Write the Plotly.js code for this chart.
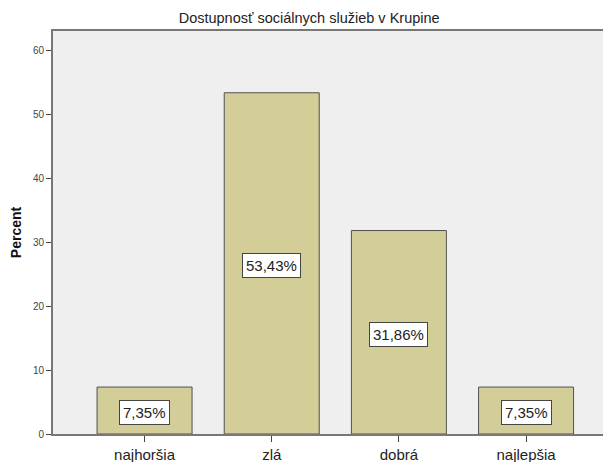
<!DOCTYPE html>
<html>
<head>
<meta charset="utf-8">
<script src="https://cdn.plot.ly/plotly-3.0.1.min.js"></script>
<style>html,body{margin:0;padding:0;background:#fff;}</style>
</head>
<body>
<div id="chart" style="width:605px;height:462px;"></div>
<script>
const categories = ["najhoršia", "zlá", "dobrá", "najlepšia"];
const percents = [7.35, 53.43, 31.86, 7.35];
const labels = ["7,35%", "53,43%", "31,86%", "7,35%"];
const yTicks = [0, 10, 20, 30, 40, 50, 60];

const FONT = "Arial, 'Liberation Sans', sans-serif";
const xIdx = categories.map((c, i) => i);

const trace = {
  type: "bar",
  x: xIdx,
  y: percents,
  width: 0.747,
  marker: { color: "#d3ce97", line: { color: "#505050", width: 1 } },
  hoverinfo: "skip"
};

const annotations = percents.map((v, i) => ({
  x: xIdx[i], y: v / 2, xref: "x", yref: "y",
  text: labels[i], showarrow: false,
  font: { family: FONT, size: 15, color: "#222" },
  bgcolor: "#ffffff", bordercolor: "#444", borderwidth: 1, borderpad: 3,
  yshift: -2
}));

const layout = {
  width: 605, height: 462,
  margin: { l: 53, r: 2, t: 31, b: 28 },
  paper_bgcolor: "#ffffff",
  plot_bgcolor: "#efefef",
  showlegend: false,
  title: {
    text: "Dostupnosť sociálnych služieb v Krupine",
    font: { family: FONT, size: 14.5, color: "#222" },
    x: 0.511, xanchor: "center", y: 0.961, yanchor: "middle"
  },
  xaxis: {
    range: [-0.72, 3.605],
    tickvals: xIdx, ticktext: categories,
    ticks: "outside", ticklen: 6, tickcolor: "#444", tickwidth: 1,
    showline: true, linecolor: "#777", linewidth: 2, mirror: true,
    showgrid: false, zeroline: false,
    tickfont: { family: FONT, size: 15, color: "#222" }
  },
  yaxis: {
    range: [0, 63.1],
    tickvals: yTicks,
    ticks: "outside", ticklen: 5, tickcolor: "#444", tickwidth: 1,
    showline: true, linecolor: "#777", linewidth: 2,
    showgrid: false, zeroline: false,
    tickfont: { family: FONT, size: 10, color: "#444" },
    title: { text: "<b>Percent</b>", font: { family: FONT, size: 14, color: "#111" }, standoff: 8 }
  },
  annotations: annotations,
  bargap: 0
};

Plotly.newPlot("chart", [trace], layout, { displayModeBar: false, staticPlot: true });
</script>
</body>
</html>
